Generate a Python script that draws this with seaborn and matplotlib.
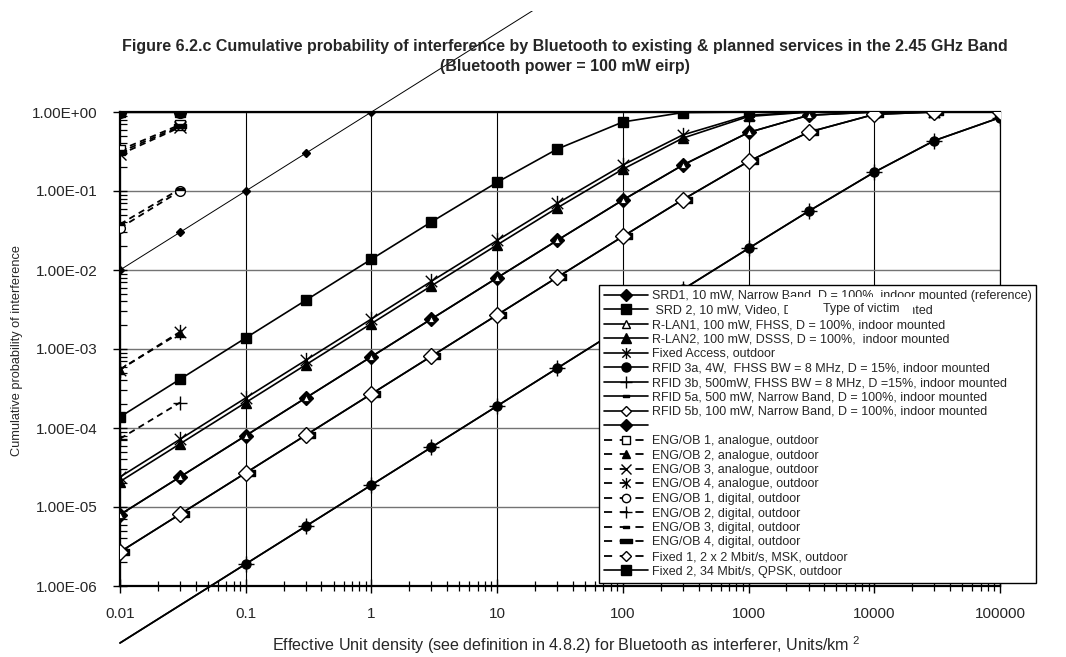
import numpy as np
import pandas as pd
import matplotlib
matplotlib.use("Agg")
import matplotlib.pyplot as plt
import seaborn as sns
from matplotlib.lines import Line2D
from matplotlib.path import Path
from matplotlib.patches import Rectangle
from matplotlib.transforms import Bbox, TransformedBbox

# ---------------- data ----------------
density = [0.01, 0.03, 0.1, 0.3, 1, 3, 10, 30, 100, 300, 1000, 3000, 10000, 30000, 100000]
density_short = [0.01, 0.03]

srd1_x = [0.01, 0.03, 0.1, 0.3, 1, 3, 10, 30]
srd1 = [0.01, 0.03, 0.1, 0.3, 1.0, 3.0, 10.0, 30.0]
srd2 = [1.38e-4, 4.14e-4, 1.38e-3, 4.13e-3, 1.37e-2, 4.06e-2, 0.129, 0.339, 0.748, 0.984, 1.0, 1.0, 1.0, 1.0, 1.0]
rlan1 = [8e-6, 2.4e-5, 8e-5, 2.4e-4, 8e-4, 2.4e-3, 7.97e-3, 0.0237, 0.0769, 0.213, 0.551, 0.909, 1.0, 1.0, 1.0]
unlabeled = [8e-6, 2.4e-5, 8e-5, 2.4e-4, 8e-4, 2.4e-3, 7.97e-3, 0.0237, 0.0769, 0.213, 0.551, 0.909, 1.0, 1.0, 1.0]
rlan2 = [2.1e-5, 6.3e-5, 2.1e-4, 6.3e-4, 2.1e-3, 6.3e-3, 0.0208, 0.0611, 0.189, 0.467, 0.878, 0.998, 1.0, 1.0, 1.0]
fixed_access = [2.4e-5, 7.2e-5, 2.4e-4, 7.2e-4, 2.4e-3, 7.2e-3, 0.0237, 0.0695, 0.213, 0.513, 0.909, 0.999, 1.0, 1.0, 1.0]
rfid3a = [1.9e-7, 5.7e-7, 1.9e-6, 5.7e-6, 1.9e-5, 5.7e-5, 1.9e-4, 5.7e-4, 1.9e-3, 5.68e-3, 0.0188, 0.0554, 0.173, 0.434, 0.85]
rfid3b = [1.9e-7, 5.7e-7, 1.9e-6, 5.7e-6, 1.9e-5, 5.7e-5, 1.9e-4, 5.7e-4, 1.9e-3, 5.68e-3, 0.0188, 0.0554, 0.173, 0.434, 0.85]
rfid5a = [2.7e-6, 8.1e-6, 2.7e-5, 8.1e-5, 2.7e-4, 8.1e-4, 2.7e-3, 8.07e-3, 0.0266, 0.0778, 0.237, 0.555, 0.933, 1.0, 1.0]
rfid5b = [2.7e-6, 8.1e-6, 2.7e-5, 8.1e-5, 2.7e-4, 8.1e-4, 2.7e-3, 8.07e-3, 0.0266, 0.0778, 0.237, 0.555, 0.933, 1.0, 1.0]

eng1_analogue = [0.33, 0.69]
eng2_analogue = [5.5e-4, 1.6e-3]
eng3_analogue = [0.29, 0.64]
eng4_analogue = [5.5e-4, 1.65e-3]
eng1_digital = [0.034, 0.100]
eng2_digital = [7.3e-5, 2.1e-4]
eng3_digital = [0.038, 0.106]
eng4_digital = [0.31, 0.66]
fixed1 = [1.0, 1.0]
fixed2 = [1.0, 1.0]

x_ticks = [0.01, 0.1, 1, 10, 100, 1000, 10000, 100000]
x_tick_labels = ["0.01", "0.1", "1", "10", "100", "1000", "10000", "100000"]
y_ticks = [1e-6, 1e-5, 1e-4, 1e-3, 1e-2, 1e-1, 1.0]
y_tick_labels = ["1.00E-06", "1.00E-05", "1.00E-04", "1.00E-03", "1.00E-02", "1.00E-01", "1.00E+00"]

legend_labels = [
    "SRD1, 10 mW, Narrow Band, D = 100%, indoor mounted (reference)",
    " SRD 2, 10 mW, Video, D = 100%, indoor mounted",
    "R-LAN1, 100 mW, FHSS, D = 100%, indoor mounted",
    "R-LAN2, 100 mW, DSSS, D = 100%,  indoor mounted",
    "Fixed Access, outdoor",
    "RFID 3a, 4W,  FHSS BW = 8 MHz, D = 15%, indoor mounted",
    "RFID 3b, 500mW, FHSS BW = 8 MHz, D =15%, indoor mounted",
    "RFID 5a, 500 mW, Narrow Band, D = 100%, indoor mounted",
    "RFID 5b, 100 mW, Narrow Band, D = 100%, indoor mounted",
    "",
    "ENG/OB 1, analogue, outdoor",
    "ENG/OB 2, analogue, outdoor",
    "ENG/OB 3, analogue, outdoor",
    "ENG/OB 4, analogue, outdoor",
    "ENG/OB 1, digital, outdoor",
    "ENG/OB 2, digital, outdoor",
    "ENG/OB 3, digital, outdoor",
    "ENG/OB 4, digital, outdoor",
    "Fixed 1, 2 x 2 Mbit/s, MSK, outdoor",
    "Fixed 2, 34 Mbit/s, QPSK, outdoor",
]

# ---------------- style ----------------
sns.set_theme(style="white")
plt.rcParams["font.family"] = ["Liberation Sans", "DejaVu Sans"]
plt.rcParams["mathtext.fontset"] = "custom"
plt.rcParams["mathtext.rm"] = "Liberation Sans"
plt.rcParams["mathtext.it"] = "Liberation Sans:italic"
plt.rcParams["mathtext.bf"] = "Liberation Sans:bold"

W, H = 1066, 657
fig = plt.figure(figsize=(W / 100, H / 100), dpi=100)
ax = fig.add_axes([120 / W, 1 - 586 / H, 880 / W, 474 / H])
ax.set_xscale("log")
ax.set_yscale("log")
ax.set_xlim(0.01, 100000)
ax.set_ylim(1e-6, 1.0)

# custom markers
M, L = Path.MOVETO, Path.LINETO
asterisk = Path([(0, -1), (0, 1), (-0.75, -0.75), (0.75, 0.75), (-0.75, 0.75), (0.75, -0.75)],
                [M, L, M, L, M, L])
bar_right = Path([(0, -0.3), (1, -0.3), (1, 0.3), (0, 0.3), (0, -0.3)],
                 [M, L, L, L, Path.CLOSEPOLY])
bar_center = Path([(-1, -0.35), (1, -0.35), (1, 0.35), (-1, 0.35), (-1, -0.35)],
                  [M, L, L, L, Path.CLOSEPOLY])

top_clip = TransformedBbox(Bbox([[0, 0], [1, 1 - 11 / H]]), fig.transFigure)


def draw_line(xv, yv, lw=1.2, ls="-", unclip=False, z=3):
    df = pd.DataFrame({"x": xv, "y": yv})
    sns.lineplot(data=df, x="x", y="y", ax=ax, color="black", linewidth=lw, linestyle=ls,
                 estimator=None, sort=False, legend=False, zorder=z)
    ln = ax.lines[-1]
    if unclip:
        ln.set_clip_path(None)
        ln.set_clip_box(top_clip)
    return ln


def draw_marks(xv, yv, marker, ms, mfc="black", mew=1.0, z=4):
    df = pd.DataFrame({"x": xv, "y": yv})
    sns.lineplot(data=df, x="x", y="y", ax=ax, color="black", linestyle="none",
                 marker=marker, markersize=ms, markerfacecolor=mfc,
                 markeredgecolor="black", markeredgewidth=mew,
                 estimator=None, sort=False, legend=False, zorder=z)


DASH = (0, (3.5, 2.5))
LEG_DASH = (0, (4.5, 4.2))

# solid long curves
draw_line(srd1_x, srd1, lw=0.7, unclip=True)
draw_marks(srd1_x, srd1, "D", 4.2)

draw_line(density, srd2)
draw_marks(density, srd2, "s", 6.5)

draw_line(density, fixed_access)
draw_marks(density, fixed_access, asterisk, 11, mew=1.0)

draw_line(density, rlan2)
draw_marks(density, rlan2, "^", 7.5)

draw_line(density, unlabeled)
draw_marks(density, unlabeled, "D", 7.5)
draw_line(density, rlan1)
draw_marks(density, rlan1, "^", 4.0, mfc="white", mew=0.6, z=5)

draw_line(density, rfid5a)
draw_marks(density, rfid5a, bar_right, 13, z=4)
draw_line(density, rfid5b)
draw_marks(density, rfid5b, "D", 8, mfc="white", mew=1.0, z=5)

draw_line(density, rfid3a, unclip=True)
draw_marks(density, rfid3a, "o", 6.5)
draw_line(density, rfid3b, unclip=True)
draw_marks(density, rfid3b, "+", 11, mew=1.0)

# dashed short series
draw_line(density_short, eng1_analogue, lw=1.3, ls=DASH)
draw_marks(density_short, eng1_analogue, "s", 6.5, mfc="white")
draw_line(density_short, eng3_analogue, lw=1.3, ls=DASH)
draw_marks(density_short, eng3_analogue, "x", 8)
draw_line(density_short, eng4_digital, lw=1.3, ls=DASH)
draw_marks(density_short, eng4_digital, bar_center, 9)
draw_line(density_short, eng2_analogue, lw=1.3, ls=DASH)
draw_marks(density_short, eng2_analogue, "^", 6)
draw_line(density_short, eng4_analogue, lw=1.3, ls=DASH)
draw_marks(density_short, eng4_analogue, asterisk, 11)
draw_line(density_short, eng1_digital, lw=1.3, ls=DASH)
draw_marks(density_short, eng1_digital, "o", 7, mfc="white")
draw_line(density_short, eng3_digital, lw=1.3, ls=DASH)
draw_marks(density_short, eng3_digital, bar_center, 6)
draw_line(density_short, eng2_digital, lw=1.3, ls=DASH)
draw_marks(density_short, eng2_digital, "+", 10)
draw_line(density_short, fixed2, lw=1.6)
draw_marks(density_short, fixed2, "s", 7.5)
draw_line(density_short, fixed1, lw=1.3, ls=DASH)
draw_marks(density_short, fixed1, "o", 8.5)

# ---------------- axes cosmetics ----------------
ax.xaxis.grid(True, which="major", color="black", linewidth=0.8)
ax.yaxis.grid(True, which="major", color="0.45", linewidth=1.0)
ax.set_axisbelow(True)
for side in ["left", "bottom", "top"]:
    ax.spines[side].set_color("black")
    ax.spines[side].set_linewidth(1.6)
ax.spines["right"].set_color("black")
ax.spines["right"].set_linewidth(0.9)

ax.set_xticks(x_ticks)
ax.set_xticklabels(x_tick_labels)
ax.set_yticks(y_ticks)
ax.set_yticklabels(y_tick_labels)
ax.xaxis.set_minor_locator(matplotlib.ticker.LogLocator(base=10, subs=np.arange(2, 10)))
ax.yaxis.set_minor_locator(matplotlib.ticker.LogLocator(base=10, subs=np.arange(2, 10)))
ax.xaxis.set_minor_formatter(matplotlib.ticker.NullFormatter())
ax.yaxis.set_minor_formatter(matplotlib.ticker.NullFormatter())
ax.tick_params(axis="x", which="major", direction="inout", length=10, width=1.0,
               color="black", labelsize=11, pad=10, bottom=True)
ax.tick_params(axis="x", which="minor", direction="inout", length=7, width=0.9,
               color="black", bottom=True)
ax.tick_params(axis="y", which="major", direction="inout", length=10, width=1.0,
               color="black", labelsize=11, pad=11, left=True)
ax.tick_params(axis="y", which="minor", direction="in", length=5, width=0.9,
               color="black", left=True)
ax.set_xlabel("")
ax.set_ylabel("")

# ---------------- legend ----------------
def h(marker, ms, mfc="black", ls="-", lw=1.2, mew=1.0):
    return Line2D([], [], color="black", linestyle=ls, linewidth=lw, marker=marker,
                  markersize=ms, markerfacecolor=mfc, markeredgecolor="black",
                  markeredgewidth=mew)

handles = [
    h("D", 6), h("s", 6.5), h("^", 6, mfc="white"), h("^", 6.5), h(asterisk, 8),
    h("o", 6.5), h("+", 8), h(bar_center, 5), h("D", 5, mfc="white"), h("D", 6),
    h("s", 6, mfc="white", ls=LEG_DASH, lw=1.3), h("^", 6, ls=LEG_DASH, lw=1.3),
    h("x", 6.5, ls=LEG_DASH, lw=1.3), h(asterisk, 8, ls=LEG_DASH, lw=1.3),
    h("o", 6, mfc="white", ls=LEG_DASH, lw=1.3), h("+", 8, ls=LEG_DASH, lw=1.3),
    h(bar_center, 5, ls=LEG_DASH, lw=1.3), h(bar_center, 8, ls=LEG_DASH, lw=1.3),
    h("D", 5.5, mfc="white", ls=LEG_DASH, lw=1.3), h("s", 6.5),
]
leg = ax.legend(handles, legend_labels, loc="upper left",
                bbox_to_anchor=(599 / W, 1 - 285 / H), bbox_transform=fig.transFigure,
                borderaxespad=0, borderpad=0.4, handlelength=3.5, handletextpad=0.3,
                labelspacing=0.2, fontsize=9.0, frameon=True, fancybox=False,
                edgecolor="black", framealpha=1.0)
leg.get_frame().set_linewidth(1.0)
leg.set_zorder(20)

# "Type of victim" label with its white box (covers part of the legend text)
fig.patches.append(Rectangle((788 / W, 1 - 320 / H), 125 / W, 23 / H,
                             transform=fig.transFigure, facecolor="white",
                             edgecolor="none", zorder=25))
fig.text(823 / W, 1 - 309 / H, "Type of victim", fontsize=9.0, ha="left", va="center",
         zorder=30)

# ---------------- titles ----------------
fig.text(565 / W, 1 - 47 / H,
         "Figure 6.2.c Cumulative probability of interference by Bluetooth to existing & planned services in the 2.45 GHz Band",
         fontsize=11.5, fontweight="bold", ha="center", va="center")
fig.text(565 / W, 1 - 67 / H, "(Bluetooth power = 100 mW eirp)",
         fontsize=11.5, fontweight="bold", ha="center", va="center")
fig.text(566 / W, 1 - 645 / H,
         r"Effective Unit density (see definition in 4.8.2) for Bluetooth as interferer, Units/km $^{\mathrm{2}}$",
         fontsize=11.6, ha="center", va="center")
fig.text(17 / W, 1 - 350 / H, "Cumulative probability of interference", fontsize=9.2,
         rotation=90, ha="center", va="center")

fig.savefig("out.png", dpi=100, facecolor="white")
